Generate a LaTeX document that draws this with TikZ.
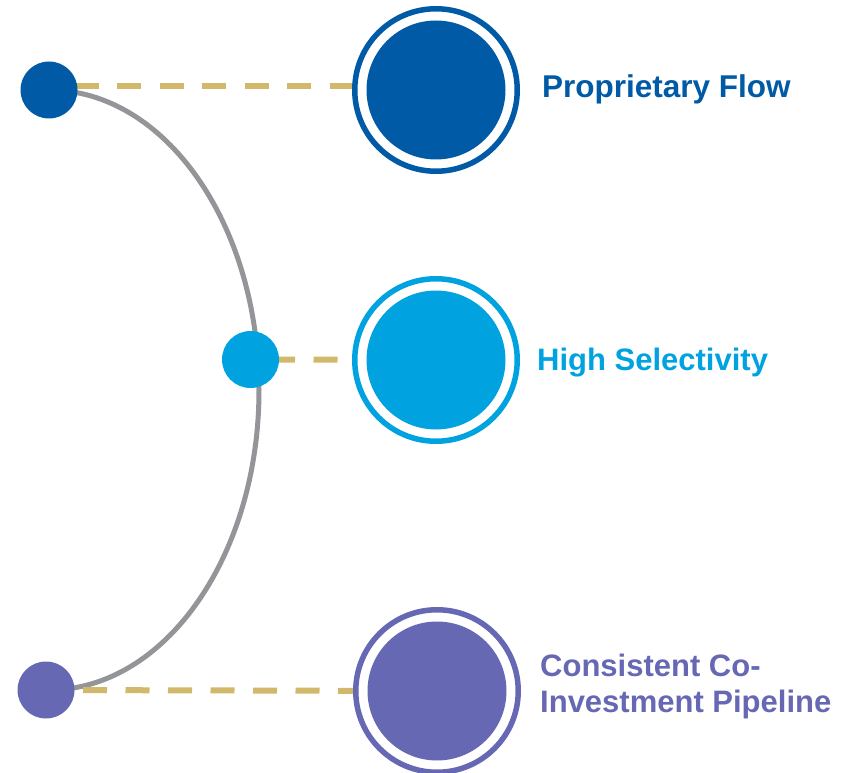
\documentclass[tikz,border=0pt]{standalone}
\usepackage{fontspec}
\setmainfont{Liberation Sans}
\usetikzlibrary{backgrounds}
\definecolor{cblue}{RGB}{0,90,165}
\definecolor{ccyan}{RGB}{0,163,224}
\definecolor{cpurple}{RGB}{103,104,179}
\definecolor{cgold}{RGB}{209,184,106}
\definecolor{cgray}{RGB}{147,149,152}
\tikzset{
  dot/.style={circle, fill=#1, minimum size=57pt, inner sep=0pt, outer sep=0pt},
  bigring/.style={circle, draw=#1, line width=5.5pt, fill=white, minimum size=162.5pt, inner sep=0pt, outer sep=0pt},
  bigfill/.style={circle, fill=#1, minimum size=139pt, inner sep=0pt, outer sep=0pt},
  label/.style={text=#1, font=\fontsize{31}{36}\selectfont\bfseries, anchor=base west, inner sep=0pt, align=left},
  goldline/.style={draw=cgold, line width=6pt, dash pattern=on 24pt off 18.5pt},
  arcline/.style={draw=cgray, line width=5pt}
}
\begin{document}
\begin{tikzpicture}[x=1pt, y=-1pt]
\useasboundingbox (0,0) rectangle (855,773);
% small dots
\node[dot=cblue] (d1) at (49,90) {};
\node[dot=ccyan] (d2) at (250.5,359.5) {};
\node[dot=cpurple] (d3) at (46,690) {};
% big circles
\node[bigring=cblue] (r1) at (436,90) {};
\node[bigfill=cblue] (c1) at (436,90) {};
\node[bigring=ccyan] (r2) at (436,360) {};
\node[bigfill=ccyan] (c2) at (436,360) {};
\node[bigring=cpurple] (r3) at (437,691) {};
\node[bigfill=cpurple] (c3) at (437,691) {};
% labels
\node[label=cblue, font=\fontsize{31.5}{36}\selectfont\bfseries] (t1) at (542,98) {Proprietary Flow};
\node[label=ccyan] (t2) at (537,370) {High Selectivity};
\node[label=cpurple] (t3) at (540,712) {Consistent Co-\\Investment Pipeline};
\begin{scope}[on background layer]
  \draw[arcline] (d1.center) arc[start angle=-90, end angle=90, x radius=210, y radius=300];
  \draw[goldline, dash phase=17pt] ([yshift=3.5pt]d1.center) -- ([yshift=3.5pt]r1.center);
  \draw[goldline, dash phase=22pt] (d2.center) -- (r2.center);
  \draw[goldline, dash phase=5.5pt] (d3.center) -- (r3.center);
\end{scope}
\end{tikzpicture}
\end{document}
